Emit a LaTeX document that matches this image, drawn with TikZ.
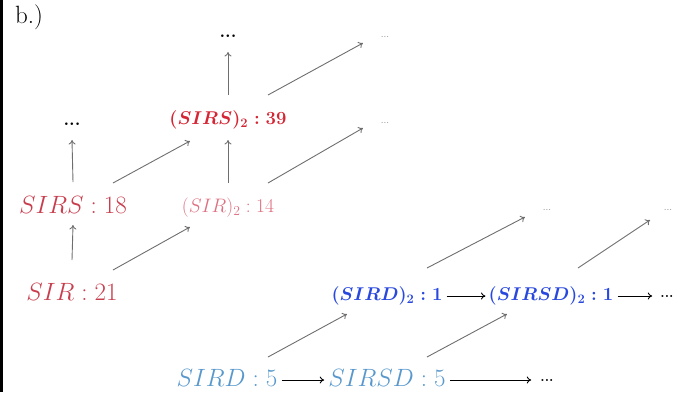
\documentclass[tikz,border=0pt]{standalone}
\usepackage{fix-cm}
\usepackage{amsmath}
\usetikzlibrary{calc,arrows.meta}
\definecolor{redA}{RGB}{200,62,78}
\definecolor{redB}{RGB}{212,38,52}
\definecolor{pinkC}{RGB}{222,112,130}
\definecolor{blueA}{RGB}{40,72,222}
\definecolor{blueB}{RGB}{88,152,204}
\definecolor{arrgray}{RGB}{110,110,110}
\tikzset{
  lbl/.style={inner sep=0pt, anchor=center},
  big/.style={lbl, font=\fontsize{25}{30}\selectfont},
  bld/.style={lbl, font=\fontsize{18.5}{22}\selectfont\boldmath},
  tinydots/.style={lbl, text=arrgray!80, font=\fontsize{10}{12}\selectfont},
  bdots/.style={lbl, font=\fontsize{18}{20}\selectfont\bfseries},
  garr/.style={draw=arrgray, line width=0.9pt, -{To[length=4.5pt,width=7pt]}},
  karr/.style={draw=black, line width=0.9pt, -{To[length=4.5pt,width=7pt]}},
}
\begin{document}
\begin{tikzpicture}[x=1pt,y=-1pt]
\useasboundingbox (0,0) rectangle (678,392);
\fill[black] (0,0) rectangle (3,392);
\node[lbl, font=\fontsize{25}{28}\selectfont] (title) at (29,17) {b.)};

% nodes
\node[big, text=redA] (sirs) at (73,205) {$SIRS:18$};
\node[big, text=redA] (sir) at (72,292) {$SIR:21$};
\node[bld, text=redB] (sirs2) at (228,120) {$(SIRS)_2:39$};
\node[lbl, text=pinkC, font=\fontsize{19.5}{23}\selectfont] (sir2) at (228,208) {$(SIR)_2:14$};
\node[bld, text=blueA] (sird2) at (387,296) {$(SIRD)_2:1$};
\node[bld, text=blueA] (sirsd2) at (551,296) {$(SIRSD)_2:1$};
\node[big, text=blueB] (sird) at (227,378) {$SIRD:5$};
\node[big, text=blueB] (sirsd) at (387,378) {$SIRSD:5$};

% dots
\node[bdots] (d1) at (228,36) {...};
\node[bdots] (d2) at (72,124) {...};
\node[tinydots] (d3) at (385,37) {...};
\node[tinydots] (d4) at (385,123) {...};
\node[tinydots] (d5) at (547,210) {...};
\node[tinydots] (d6) at (668,210) {...};
\node[bdots, font=\fontsize{14}{16}\selectfont\bfseries] (d7) at (667,296) {...};
\node[bdots, font=\fontsize{14}{16}\selectfont\bfseries] (d8) at (547,380) {...};

% vertical arrows
\draw[garr] ($(sir)+(0,-32)$) -- ($(sirs)+(0,20)$);
\draw[garr] ($(sirs)+(0,-23)$) -- ($(d2)+(0,16)$);
\draw[garr] ($(sir2)+(0,-25)$) -- ($(sirs2)+(0,20)$);
\draw[garr] ($(sirs2)+(0,-25)$) -- ($(d1)+(0,16)$);

% diagonal arrows
\draw[garr] ($(sirs)+(40,-22)$) -- ($(sirs2)+(-38,21)$);
\draw[garr] ($(sir)+(41,-22)$) -- ($(sir2)+(-38,19)$);
\draw[garr] ($(sirs2)+(40,-25)$) -- ($(d3)+(-22,6)$);
\draw[garr] ($(sir2)+(40,-25)$) -- ($(d4)+(-22,5)$);
\draw[garr] ($(sird2)+(40,-28)$) -- ($(d5)+(-22,7)$);
\draw[garr] ($(sirsd2)+(27,-28)$) -- ($(d6)+(-18,10)$);
\draw[garr] ($(sird)+(41,-21)$) -- ($(sird2)+(-40,18)$);
\draw[garr] ($(sirsd)+(40,-21)$) -- ($(sirsd2)+(-44,18)$);

% horizontal arrows
\draw[karr] ($(sird2.east)+(4,0)$) -- ($(sirsd2.west)+(-3,0)$);
\draw[karr] ($(sirsd2.east)+(4,0)$) -- ($(d7.west)+(-8,0)$);
\draw[karr] ($(sird.east)+(4,2)$) -- ($(sirsd.west)+(-4,2)$);
\draw[karr] ($(sirsd.east)+(4,2)$) -- ($(d8.west)+(-9,0)$);
\end{tikzpicture}
\end{document}
